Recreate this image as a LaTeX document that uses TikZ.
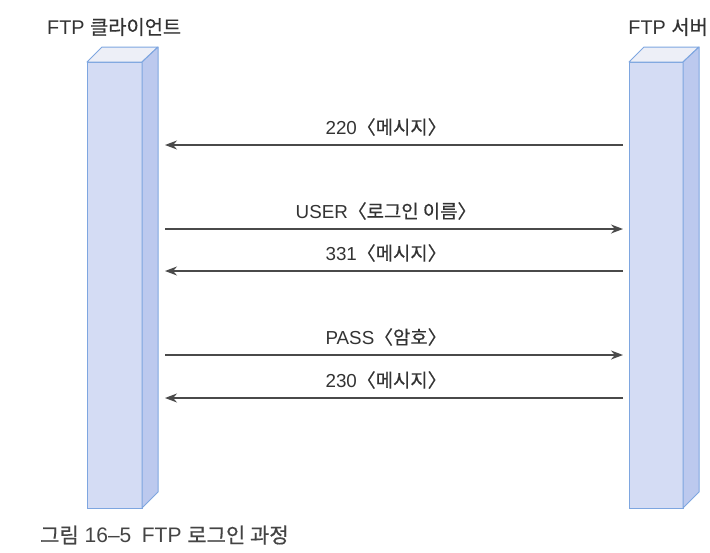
\documentclass[tikz,border=0pt]{standalone}
\usepackage{fontspec}
\setmainfont{Liberation Sans}
\newfontfamily\krfont[FakeBold=0.5]{Noto Sans CJK KR}
\newcommand{\K}[1]{{\krfont #1}}
\usetikzlibrary{arrows.meta}
\definecolor{cubefront}{HTML}{D4DCF4}
\definecolor{cubeside}{HTML}{BCC9EE}
\definecolor{cubetop}{HTML}{EDEFF7}
\definecolor{cubeline}{HTML}{7EA6E0}
\definecolor{txt}{HTML}{333333}
\definecolor{captxt}{HTML}{444444}
\definecolor{arr}{HTML}{4A4A4A}
\tikzset{
  lbl/.style={font=\fontsize{18.8}{20}\selectfont, text=txt, inner sep=0pt, yshift=18pt, xshift=-8pt},
  head/.style={font=\fontsize{19.8}{22}\selectfont, text=txt, inner sep=0pt},
  captext/.style={font=\fontsize{21}{23}\selectfont, text=captxt, inner sep=0pt},
  msg/.style={draw=arr, line width=1.3pt, -{Stealth[length=12pt,width=9pt]}},
  face/.style={draw=cubeline, line width=1pt, line join=round},
}
\newcommand{\mycube}[5]{% name, x0 (front left), x1 (front right), ytop (front), ybot
  \node[inner sep=0pt, minimum width=#3-#2, minimum height=#5-#4, anchor=north west,
        fill=cubefront, draw=cubeline, line width=1pt] (#1) at (#2,#4) {};
  \filldraw[face, fill=cubetop] (#2,#4) -- (#2+15,#4-15) -- (#3+16,#4-15) -- (#3,#4) -- cycle;
  \filldraw[face, fill=cubeside] (#3,#4) -- (#3+16,#4-15) -- (#3+16,#5-16) -- (#3,#5) -- cycle;
}
\begin{document}
\begin{tikzpicture}[x=1pt,y=-1pt]
\useasboundingbox (0,0) rectangle (710,552);
\mycube{client}{87}{142}{62}{508}
\mycube{server}{629}{683}{62}{508}
\node[head, anchor=west] (hc) at (47,27) {FTP \K{클라이언트}};
\node[head, anchor=east] (hs) at (708,27) {FTP \K{서버}};
% lifeline coordinates
\foreach \i/\y in {1/145,2/229,3/271,4/355,5/398}{
  \coordinate (c\i) at (165,\y);
  \coordinate (s\i) at (623,\y);
}
\draw[msg] (s1) -- node[lbl] (m1) {220\K{〈메시지〉}} (c1);
\draw[msg] (c2) -- node[lbl] (m2) {USER\K{〈로그인 이름〉}} (s2);
\draw[msg] (s3) -- node[lbl] (m3) {331\K{〈메시지〉}} (c3);
\draw[msg] (c4) -- node[lbl] (m4) {PASS\K{〈암호〉}} (s4);
\draw[msg] (s5) -- node[lbl] (m5) {230\K{〈메시지〉}} (c5);
\node[captext, anchor=west] (cap) at (40,535)
  {\K{그림} 16–5\hspace{0.5em}FTP \K{로그인 과정}};
\end{tikzpicture}
\end{document}
